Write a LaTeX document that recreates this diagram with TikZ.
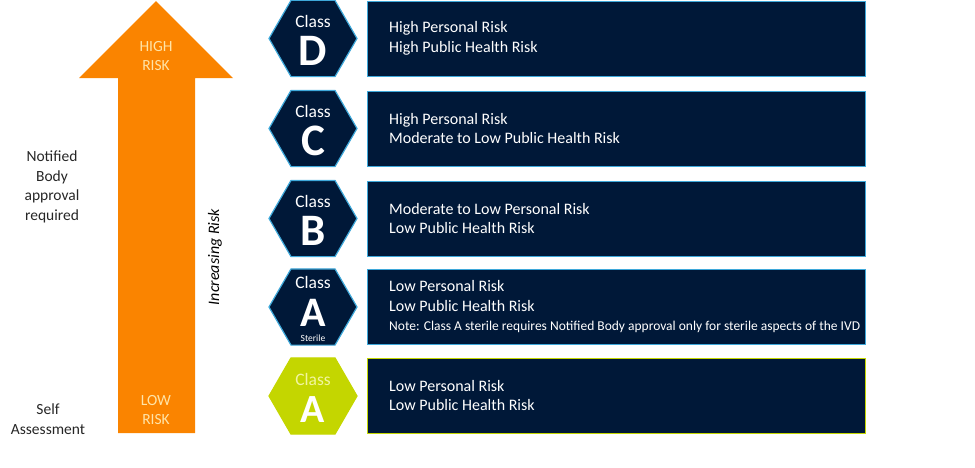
\documentclass[tikz,border=0pt]{standalone}
\usepackage{fontspec}
\setmainfont{Carlito}
\usetikzlibrary{shapes.geometric}

\definecolor{navy}{RGB}{0,24,56}
\definecolor{edgeblue}{RGB}{62,168,218}
\definecolor{riskorange}{RGB}{250,132,0}
\definecolor{lime}{RGB}{196,214,0}
\definecolor{paleyellow}{RGB}{255,228,168}
\definecolor{palelime}{RGB}{242,245,160}

\begin{document}
\begin{tikzpicture}[
        x=1pt, y=-1pt,
        class hex/.style={regular polygon, regular polygon sides=6, minimum size=88pt, inner sep=0pt, fill=navy, draw=edgeblue, line width=1.2pt},
        risk box/.style={draw=edgeblue, fill=navy, line width=1pt, anchor=west, minimum width=498pt, minimum height=75pt},
        risk text/.style={text=white, anchor=west, align=left, inner sep=0pt, font=\fontsize{16}{19.5}\selectfont},
        class word/.style={text=white, anchor=base, inner sep=0pt, font=\fontsize{17.5}{17.5}\selectfont},
        class letter/.style={text=white, anchor=base, inner sep=0pt, font=\fontsize{45}{45}\selectfont\bfseries},
        side label/.style={align=center, text=black!85, font=\fontsize{15.5}{19.5}\selectfont},
        arrow label/.style={align=center, text=paleyellow, font=\fontsize{15.5}{19}\selectfont}
      ]

      \useasboundingbox (0,0) rectangle (975,467);

      % the rising arrow
      \fill[riskorange] (118,433) -- (118,78) -- (79,78) -- (156,1) -- (233,78) -- (195,78) -- (195,433) -- cycle;
      \node[arrow label] (high) at (156,56) {HIGH\\RISK};
      \node[arrow label] (low) at (156,410) {LOW\\RISK};
      \node[rotate=90, font=\fontsize{16}{16}\selectfont\itshape] (increasing) at (215,257) {Increasing Risk};

      \node[side label] (notified) at (52,187) {Notified\\Body\\approval\\required};
      \node[side label] (self) at (48,419) {Self\\Assessment};

      % classes D, C and B
      \foreach \cls/\y/\txt in {D/38.5/{High Personal Risk\\High Public Health Risk},
                                C/128.5/{High Personal Risk\\Moderate to Low Public Health Risk},
                                B/218.5/{Moderate to Low Personal Risk\\Low Public Health Risk}} {
          \node[class hex] (hex \cls) at (313,\y) {};
          \node[class word] (word \cls) at ([yshift=11pt]hex \cls.center) {Class};
          \node[class letter] (letter \cls) at ([yshift=-27pt]hex \cls.center) {\cls};
          \node[risk box] (box \cls) at (367,\y) {};
          \node[risk text] (text \cls) at ([xshift=22pt]box \cls.west) {\txt};
        }

      % class A sterile
      \node[class hex] (hex As) at (313,307) {};
      \node[class word] (word As) at ([yshift=19pt]hex As.center) {Class};
      \node[class letter, font=\fontsize{42}{42}\selectfont\bfseries] (letter As) at ([yshift=-19pt]hex As.center) {A};
      \node[text=white, anchor=base, inner sep=0pt, font=\fontsize{9.5}{9.5}\selectfont] (sterile) at ([yshift=-34pt]hex As.center) {Sterile};
      \node[risk box] (box As) at (367,307) {};
      \node[risk text] (text As) at ([xshift=22pt]box As.west) {Low Personal Risk\\Low Public Health Risk\\{\fontsize{13.5}{19}\selectfont Note: Class A sterile requires Notified Body approval only for sterile aspects of the IVD}};

      % class A
      \node[class hex, fill=lime, draw=lime] (hex A) at (313,396) {};
      \node[class word, text=palelime] (word A) at ([yshift=11pt]hex A.center) {Class};
      \node[class letter, font=\fontsize{40}{40}\selectfont\bfseries] (letter A) at ([yshift=-26pt]hex A.center) {A};
      \node[risk box, draw=lime] (box A) at (367,395.5) {};
      \node[risk text] (text A) at ([xshift=22pt]box A.west) {Low Personal Risk\\Low Public Health Risk};

    \end{tikzpicture}
\end{document}
